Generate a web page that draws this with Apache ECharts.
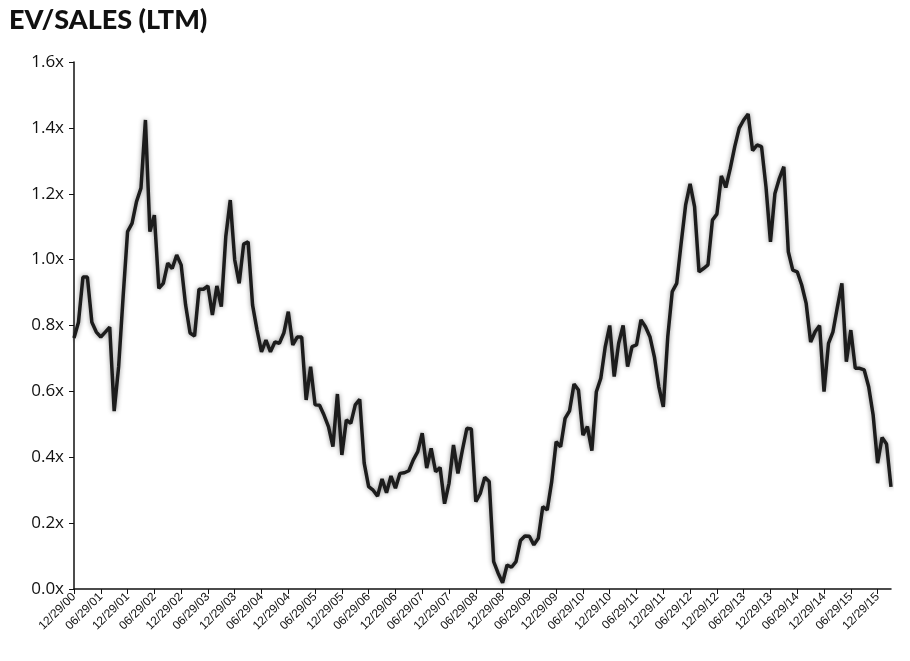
<!DOCTYPE html>
<html>
<head>
    <meta charset="utf-8">
    <title>EV/Sales</title>
    <script src="https://cdn.jsdelivr.net/npm/echarts@6/dist/echarts.min.js"></script>
</head>
<body style="margin:0">
    <div id="main" style="width: 910px;height: 661px;"></div>
    <script type="text/javascript">
    // monthly EV/Sales multiples, starting 12/29/00
    var values = [
        0.762, 0.81, 0.947, 0.947, 0.81, 0.78, 0.765, 0.78, 0.795, 0.54,
        0.675, 0.887, 1.085, 1.11, 1.176, 1.217, 1.424, 1.085, 1.135, 0.913,
        0.928, 0.989, 0.973, 1.014, 0.984, 0.862, 0.777, 0.768, 0.91, 0.91,
        0.92, 0.832, 0.92, 0.857, 1.07, 1.181, 0.999, 0.928, 1.047, 1.054,
        0.862, 0.786, 0.72, 0.756, 0.72, 0.75, 0.746, 0.777, 0.842, 0.741,
        0.765, 0.765, 0.574, 0.675, 0.559, 0.558, 0.528, 0.493, 0.432, 0.592,
        0.407, 0.513, 0.503, 0.559, 0.576, 0.382, 0.311, 0.30, 0.282, 0.334,
        0.292, 0.343, 0.306, 0.351, 0.353, 0.359, 0.392, 0.417, 0.473, 0.367,
        0.427, 0.356, 0.369, 0.259, 0.321, 0.437, 0.351, 0.422, 0.488, 0.486,
        0.265, 0.29, 0.339, 0.326, 0.083, 0.048, 0.019, 0.073, 0.066, 0.083,
        0.147, 0.161, 0.16, 0.134, 0.154, 0.25, 0.24, 0.326, 0.447, 0.432,
        0.518, 0.541, 0.622, 0.604, 0.467, 0.493, 0.42, 0.599, 0.64, 0.736,
        0.80, 0.645, 0.746, 0.80, 0.675, 0.736, 0.741, 0.817, 0.796, 0.766,
        0.705, 0.614, 0.553, 0.766, 0.903, 0.928, 1.05, 1.166, 1.23, 1.161,
        0.963, 0.973, 0.984, 1.12, 1.138, 1.254, 1.219, 1.277, 1.343, 1.399,
        1.424, 1.442, 1.331, 1.348, 1.343, 1.221, 1.054, 1.201, 1.247, 1.282,
        1.024, 0.968, 0.963, 0.923, 0.867, 0.75, 0.781, 0.80, 0.599, 0.746,
        0.781, 0.857, 0.928, 0.69, 0.786, 0.67, 0.67, 0.665, 0.614, 0.528,
        0.382, 0.46, 0.44, 0.31
    ];
    var months = ['12', '01', '02', '03', '04', '05', '06', '07', '08', '09', '10', '11'];
    var categories = [];
    for (var i = 0; i < values.length; i++) {
        var y = Math.floor((i + 11) / 12);
        categories.push(months[i % 12] + '/29/' + (y < 10 ? '0' + y : '' + y));
    }
    var yTicks = [0, 0.2, 0.4, 0.6, 0.8, 1.0, 1.2, 1.4, 1.6];

    var myChart = echarts.init(document.getElementById('main'));
    var option = {
        animation: false,
        title: {
            text: 'EV/SALES (LTM)',
            left: 4,
            top: 2,
            textStyle: { fontFamily: 'Lato', fontWeight: 900, fontSize: 27, color: '#111' }
        },
        grid: { left: 74, right: 19, top: 62, bottom: 72 },
        xAxis: {
            type: 'category',
            boundaryGap: false,
            data: categories,
            axisLine: { lineStyle: { color: '#111', width: 1.5 } },
            axisTick: { interval: 5, length: 5, lineStyle: { color: '#111' } },
            axisLabel: {
                interval: 5,
                rotate: 45,
                fontFamily: 'Liberation Sans',
                fontSize: 12,
                color: '#111',
                margin: 6
            }
        },
        yAxis: {
            type: 'value',
            min: 0,
            max: 1.6,
            interval: 0.2,
            splitLine: { show: false },
            axisLine: { show: true, lineStyle: { color: '#111', width: 1.5 } },
            axisTick: { show: true, length: 5, lineStyle: { color: '#111' } },
            axisLabel: {
                fontFamily: 'Open Sans',
                fontSize: 17,
                color: '#111',
                margin: 10,
                formatter: function (v) {
                    var t = yTicks.filter(function (k) { return Math.abs(k - v) < 1e-6; })[0];
                    return (t !== undefined ? t : v).toFixed(1) + 'x';
                }
            }
        },
        series: [{
            type: 'line',
            data: values,
            symbol: 'none',
            lineStyle: {
                color: '#1c1c1c',
                width: 3.5,
                shadowColor: 'rgba(0,0,0,0.45)',
                shadowBlur: 5
            }
        }]
    };
    myChart.setOption(option);
    </script>
</body>
</html>
